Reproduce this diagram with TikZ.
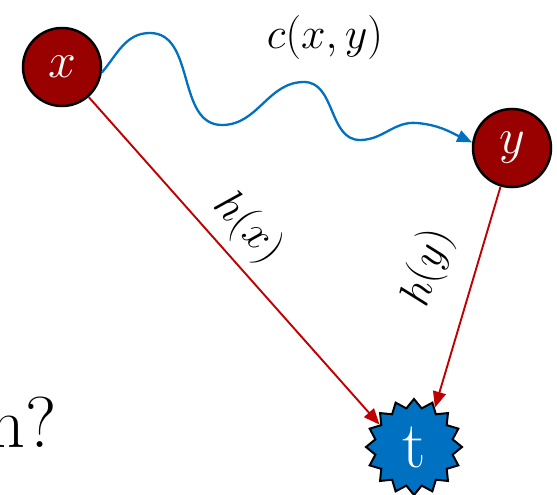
\RequirePackage{fix-cm}
\documentclass[tikz,border=0pt]{standalone}
\usepackage{amsmath}
\usepackage{tikz}
\usetikzlibrary{shapes.geometric, arrows.meta, positioning}
\definecolor{nodered}{RGB}{153,0,0}
\definecolor{edgered}{RGB}{192,0,0}
\definecolor{costblue}{RGB}{0,112,192}

\begin{document}
\begin{tikzpicture}[x=1pt, y=-1pt,
    vertex/.style={circle, draw=black, line width=2.5pt, fill=nodered, text=white,
                   minimum size=78pt, inner sep=0pt, font=\fontsize{50}{56}\selectfont},
    goal/.style={star, star points=16, star point ratio=1.22, draw=black, line width=2pt,
                 fill=costblue, text=white, minimum size=96pt, inner sep=0pt,
                 font=\fontsize{66}{72}\selectfont},
    heur/.style={draw=edgered, line width=1.9pt, -{Triangle[length=16pt,width=13pt]}},
    cost/.style={draw=costblue, line width=2.3pt, -{Triangle[length=15pt,width=12pt]}},
    lbl/.style={font=\fontsize{44}{50}\selectfont, inner sep=0pt}]
    \useasboundingbox (0,0) rectangle (557,495);
    % Nos do grafo
    \node[vertex] (x) at (62,67) {$x$};
    \node[vertex] (y) at (512,148) {$y$};
    \node[goal] (t) at (414,447) {t};
    \node[anchor=base east, inner sep=0pt, font=\fontsize{72}{80}\selectfont] (q) at (57,447) {n?};
    % Custo real e heuristicas
    \draw[cost] (x.-8) to[out=50, in=180] (150,33) to[out=0, in=180] (222,125)
      to[out=0, in=180] (304,82) to[out=0, in=180] (360,140)
      to[out=0, in=175] (417,123) to[out=-5, in=155] (y.172);
    \draw[heur] (x) -- (t.147);
    \draw[heur] (y) -- (t.62);
    \node[lbl] (cxy) at (325,38) {$c(x,y)$};
    \node[lbl, rotate=-47] (hx) at (248,228) {$h(x)$};
    \node[lbl, rotate=72] (hy) at (428,268) {$h(y)$};
\end{tikzpicture}
\end{document}
